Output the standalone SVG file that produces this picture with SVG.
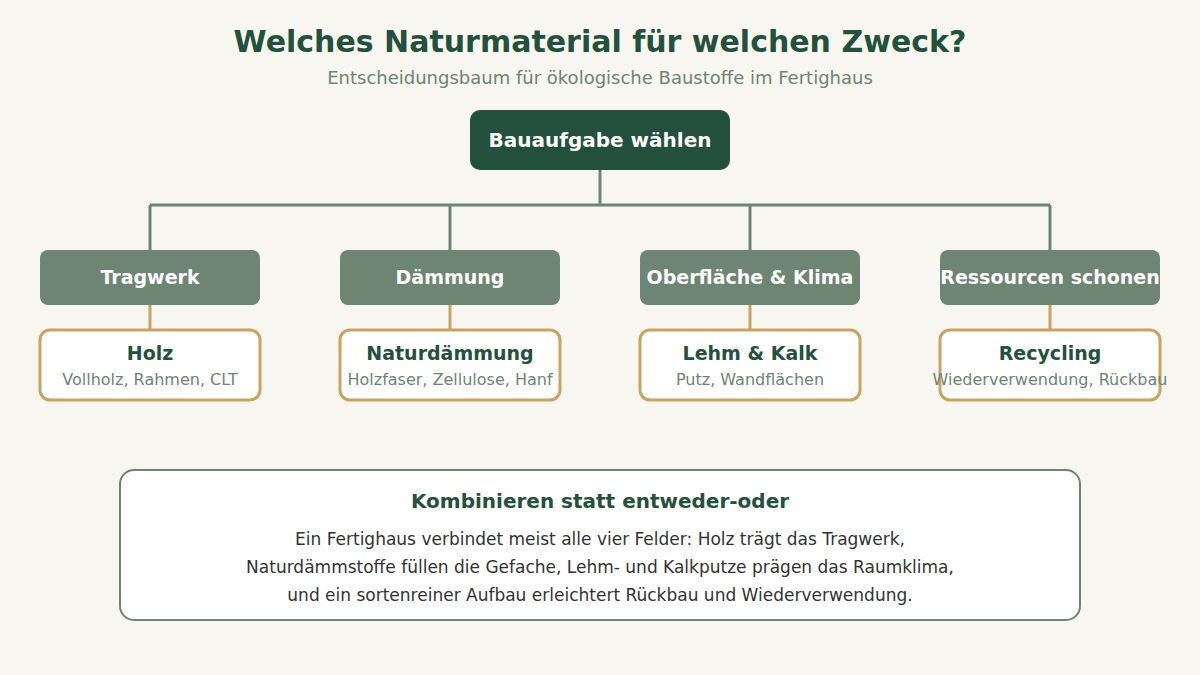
<svg xmlns="http://www.w3.org/2000/svg" width="1200" height="675" viewBox="0 0 1200 675">
<style>
text{font-family:"DejaVu Sans","Noto Sans",sans-serif;text-anchor:middle}
.title{font-size:30px;font-weight:bold;fill:#23513c}
.sub{font-size:18px;fill:#6e8573}
.root{fill:#22503c}
.rootT{font-size:20px;font-weight:bold;fill:#ffffff}
.cat{fill:#6e8573}
.catT{font-size:19px;font-weight:bold;fill:#ffffff}
.leaf{fill:#ffffff;stroke:#c9a461;stroke-width:3}
.leafT{font-size:19px;font-weight:bold;fill:#23513c}
.leafS{font-size:16px;fill:#6e8573}
.line{stroke:#6e8573;stroke-width:3;fill:none}
.gold{stroke:#c9a461;stroke-width:3;fill:none}
.note{fill:#ffffff;stroke:#6e8573;stroke-width:2}
.noteT{font-size:20px;font-weight:bold;fill:#23513c}
.noteB{font-size:17px;fill:#333333}
</style>
<rect width="1200" height="675" fill="#f7f6f1"/>
<text class="title" x="600" y="52">Welches Naturmaterial für welchen Zweck?</text>
<text class="sub" x="600" y="84">Entscheidungsbaum für ökologische Baustoffe im Fertighaus</text>
<g id="connectors">
<path class="line" d="M600 170V205M150 205H1050M150 205V250M450 205V250M750 205V250M1050 205V250"/>
<path class="gold" d="M150 305V330M450 305V330M750 305V330M1050 305V330"/>
</g>
<g id="root"><rect class="root" x="470" y="110" width="260" height="60" rx="10"/><text class="rootT" x="600" y="147">Bauaufgabe wählen</text></g>
<g id="cat-tragwerk"><rect class="cat" x="40" y="250" width="220" height="55" rx="8"/><text class="catT" x="150" y="284">Tragwerk</text></g>
<g id="cat-daemmung"><rect class="cat" x="340" y="250" width="220" height="55" rx="8"/><text class="catT" x="450" y="284">Dämmung</text></g>
<g id="cat-oberflaeche"><rect class="cat" x="640" y="250" width="220" height="55" rx="8"/><text class="catT" x="750" y="284">Oberfläche &amp; Klima</text></g>
<g id="cat-ressourcen"><rect class="cat" x="940" y="250" width="220" height="55" rx="8"/><text class="catT" x="1050" y="284">Ressourcen schonen</text></g>
<g id="leaf-holz"><rect class="leaf" x="40" y="330" width="220" height="70" rx="10"/><text class="leafT" x="150" y="360">Holz</text><text class="leafS" x="150" y="385">Vollholz, Rahmen, CLT</text></g>
<g id="leaf-naturdaemmung"><rect class="leaf" x="340" y="330" width="220" height="70" rx="10"/><text class="leafT" x="450" y="360">Naturdämmung</text><text class="leafS" x="450" y="385">Holzfaser, Zellulose, Hanf</text></g>
<g id="leaf-lehm"><rect class="leaf" x="640" y="330" width="220" height="70" rx="10"/><text class="leafT" x="750" y="360">Lehm &amp; Kalk</text><text class="leafS" x="750" y="385">Putz, Wandflächen</text></g>
<g id="leaf-recycling"><rect class="leaf" x="940" y="330" width="220" height="70" rx="10"/><text class="leafT" x="1050" y="360">Recycling</text><text class="leafS" x="1050" y="385">Wiederverwendung, Rückbau</text></g>
<g id="note"><rect class="note" x="120" y="470" width="960" height="150" rx="14"/>
<text class="noteT" x="600" y="508">Kombinieren statt entweder-oder</text>
<text class="noteB" x="600" y="545">Ein Fertighaus verbindet meist alle vier Felder: Holz trägt das Tragwerk,</text>
<text class="noteB" x="600" y="573">Naturdämmstoffe füllen die Gefache, Lehm- und Kalkputze prägen das Raumklima,</text>
<text class="noteB" x="600" y="601">und ein sortenreiner Aufbau erleichtert Rückbau und Wiederverwendung.</text>
</g>
</svg>
